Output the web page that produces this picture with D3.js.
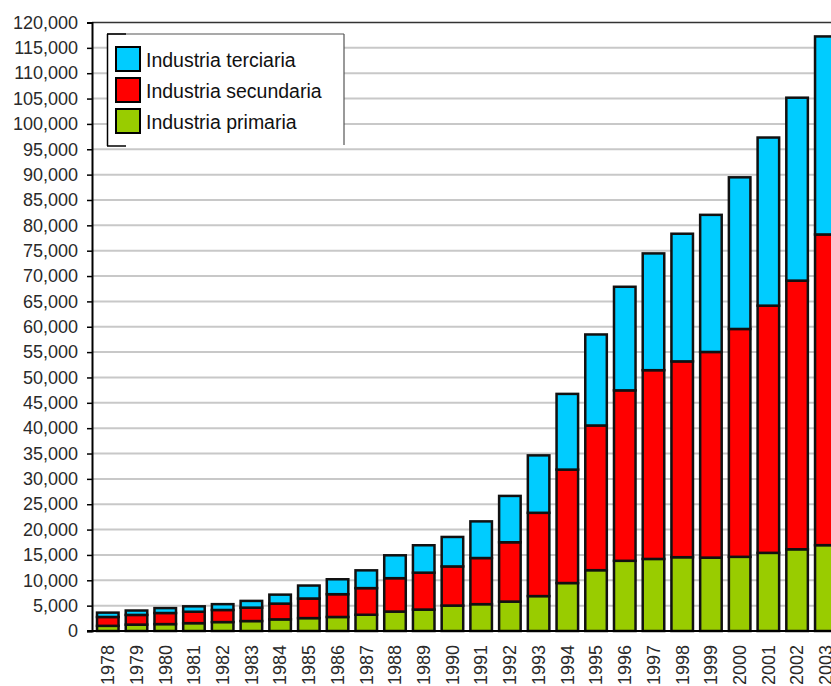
<!DOCTYPE html>
<html>
<head>
<meta charset="utf-8">
<script src="https://cdn.jsdelivr.net/npm/d3@7"></script>
<style>
  html, body { margin: 0; padding: 0; background: #fff; overflow: hidden; }
  svg { display: block; font-family: "Liberation Sans", Arial, sans-serif; }
</style>
</head>
<body>
<div id="chart"></div>
<script>
// PIB de China por sectores (100 millones de yuanes)
const years = ["1978", "1979", "1980", "1981", "1982", "1983", "1984", "1985", "1986",
  "1987", "1988", "1989", "1990", "1991", "1992", "1993", "1994", "1995", "1996",
  "1997", "1998", "1999", "2000", "2001", "2002", "2003"];
const primaria = [1018, 1259, 1359, 1546, 1762, 1961, 2296, 2542, 2764, 3204, 3831,
  4228, 5017, 5289, 5800, 6882, 9457, 11993, 13844, 14211, 14552, 14472, 14628,
  15412, 16117, 16928];
const secundaria = [1745, 1914, 2192, 2256, 2383, 2646, 3106, 3867, 4493, 5252, 6587,
  7278, 7717, 9102, 11700, 16429, 22372, 28538, 33613, 37223, 38619, 40558, 44935,
  48750, 52980, 61274];
const terciaria = [861, 866, 966, 1061, 1150, 1328, 1770, 2556, 2946, 3507, 4510,
  5403, 5814, 7227, 9139, 11324, 14930, 17947, 20428, 23029, 25174, 27038, 29905,
  33153, 36075, 39050];
const seriesNames = ["Industria terciaria", "Industria secundaria", "Industria primaria"];
const yTicks = d3.range(0, 120001, 5000);

const width = 831;
const height = 686;

const svg = d3.select("#chart").append("svg")
  .attr("width", width)
  .attr("height", height);

const keys = ["primaria", "secundaria", "terciaria"];
const colors = { primaria: "#99cc00", secundaria: "#ff0000", terciaria: "#00ccff" };

const data = years.map((y, i) => ({
  year: y,
  primaria: primaria[i],
  secundaria: secundaria[i],
  terciaria: terciaria[i]
}));

const stacked = d3.stack().keys(keys)(data);

const xScale = d3.scaleBand()
  .domain(years)
  .range([93, 840.6])
  .paddingInner(0.25)
  .paddingOuter(0.14);

const yScale = d3.scaleLinear()
  .domain([0, 120000])
  .range([631, 22.5]);

// gridlines
svg.append("g")
  .selectAll("line")
  .data(yTicks.filter(t => t > 0 && t < 120000))
  .enter().append("line")
  .attr("x1", 93)
  .attr("x2", width)
  .attr("y1", d => yScale(d))
  .attr("y2", d => yScale(d))
  .attr("stroke", "#c8c8c8")
  .attr("stroke-width", 2);

// top border of plot
svg.append("line")
  .attr("x1", 92).attr("x2", width)
  .attr("y1", yScale(120000)).attr("y2", yScale(120000))
  .attr("stroke", "#333")
  .attr("stroke-width", 1.5);

// y axis
const yAxis = svg.append("g")
  .attr("transform", "translate(92,0)")
  .call(d3.axisLeft(yScale).tickValues(yTicks).tickSize(5).tickPadding(9)
    .tickFormat(d3.format(",")));
yAxis.select(".domain").attr("stroke", "#000").attr("stroke-width", 2);
yAxis.selectAll(".tick line").attr("stroke", "#000").attr("stroke-width", 1.5);
yAxis.selectAll("text")
  .attr("fill", "#2a2a2a")
  .style("font-size", "18px")
  .style("font-family", "'Liberation Sans', Arial, sans-serif");

// bars
const groups = svg.append("g")
  .selectAll("g")
  .data(stacked)
  .enter().append("g")
  .attr("fill", d => colors[d.key]);

groups.selectAll("rect")
  .data(d => d)
  .enter().append("rect")
  .attr("x", d => xScale(d.data.year))
  .attr("y", d => yScale(d[1]))
  .attr("width", xScale.bandwidth())
  .attr("height", d => yScale(d[0]) - yScale(d[1]))
  .attr("stroke", "#111")
  .attr("stroke-width", 2.5);

// x axis line
svg.append("line")
  .attr("x1", 87).attr("x2", width)
  .attr("y1", yScale(0)).attr("y2", yScale(0))
  .attr("stroke", "#000")
  .attr("stroke-width", 2);

// x labels, rotated
svg.append("g")
  .selectAll("text")
  .data(years)
  .enter().append("text")
  .attr("transform", d => "translate(" + (xScale(d) + xScale.bandwidth() / 2) + ",645) rotate(-90)")
  .attr("text-anchor", "end")
  .attr("dy", "0.35em")
  .attr("fill", "#2a2a2a")
  .style("font-size", "18px")
  .text(d => d);

// legend
const legend = svg.append("g");
legend.append("rect")
  .attr("x", 107).attr("y", 34)
  .attr("width", 237).attr("height", 113)
  .attr("fill", "#fff");
legend.append("line")
  .attr("x1", 107).attr("x2", 344).attr("y1", 34).attr("y2", 34)
  .attr("stroke", "#555").attr("stroke-width", 1.2);
legend.append("line")
  .attr("x1", 107).attr("x2", 126).attr("y1", 34).attr("y2", 34)
  .attr("stroke", "#000").attr("stroke-width", 1.5);
legend.append("line")
  .attr("x1", 344).attr("x2", 344).attr("y1", 34).attr("y2", 145)
  .attr("stroke", "#555").attr("stroke-width", 1.2);
legend.append("line")
  .attr("x1", 107.5).attr("x2", 107.5).attr("y1", 34).attr("y2", 146)
  .attr("stroke", "#000").attr("stroke-width", 1.5);
legend.append("line")
  .attr("x1", 107).attr("x2", 126).attr("y1", 146).attr("y2", 146)
  .attr("stroke", "#000").attr("stroke-width", 1.5);

const legendColors = [colors.terciaria, colors.secundaria, colors.primaria];
const items = legend.selectAll(".item")
  .data(seriesNames)
  .enter().append("g")
  .attr("class", "item")
  .attr("transform", (d, i) => "translate(0," + (i * 31) + ")");

items.append("rect")
  .attr("x", 116).attr("y", 47)
  .attr("width", 24).attr("height", 24)
  .attr("fill", (d, i) => legendColors[i])
  .attr("stroke", "#000")
  .attr("stroke-width", 2);

items.append("text")
  .attr("x", 146)
  .attr("y", 67)
  .attr("fill", "#111")
  .style("font-size", "19.5px")
  .text(d => d);
</script>
</body>
</html>
